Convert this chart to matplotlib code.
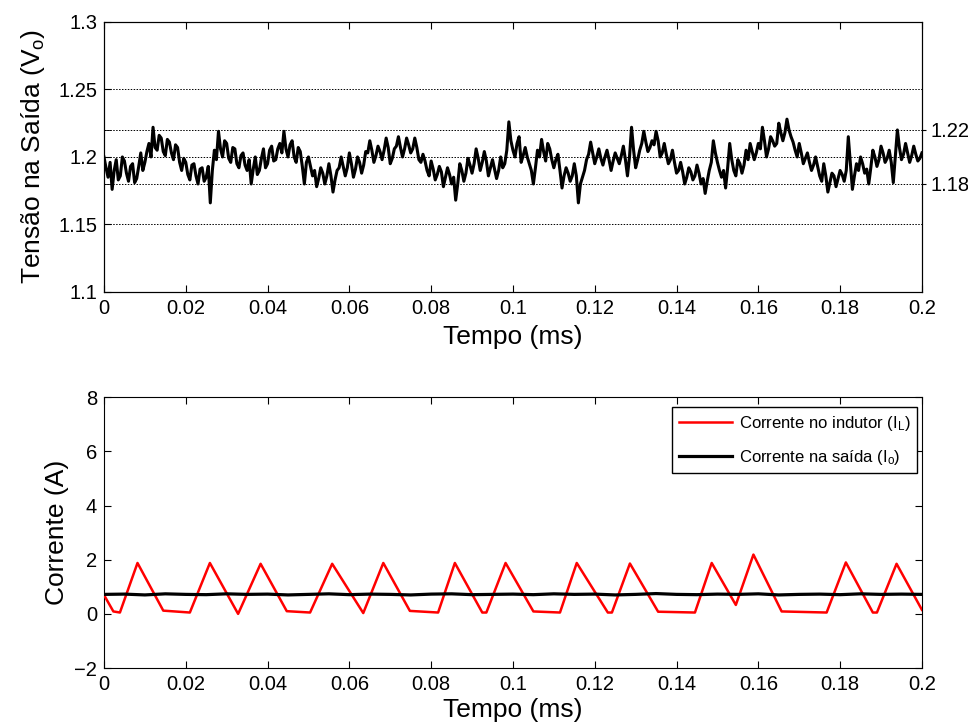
import numpy as np
import matplotlib
matplotlib.use("Agg")
import matplotlib.pyplot as plt

plt.rcParams['font.family'] = ['Liberation Sans', 'DejaVu Sans']
plt.rcParams['mathtext.default'] = 'regular'

# output voltage, one sample every 0.0005 ms
t_v = np.arange(0, 401) * 0.0005
v_out = [
    1.200, 1.192, 1.185, 1.196, 1.176, 1.190, 1.198, 1.183, 1.186, 1.200,
    1.197, 1.188, 1.182, 1.193, 1.195, 1.181, 1.184, 1.193, 1.203, 1.190,
    1.196, 1.204, 1.210, 1.200, 1.222, 1.207, 1.205, 1.216, 1.214, 1.204,
    1.201, 1.213, 1.211, 1.203, 1.198, 1.209, 1.207, 1.196, 1.190, 1.199,
    1.196, 1.187, 1.183, 1.194, 1.195, 1.186, 1.180, 1.191, 1.192, 1.182,
    1.185, 1.193, 1.166, 1.190, 1.205, 1.198, 1.219, 1.206, 1.200, 1.212,
    1.210, 1.199, 1.196, 1.207, 1.206, 1.195, 1.192, 1.201, 1.203, 1.194,
    1.190, 1.198, 1.180, 1.191, 1.200, 1.187, 1.190, 1.199, 1.206, 1.192,
    1.195, 1.205, 1.208, 1.197, 1.198, 1.206, 1.210, 1.203, 1.219, 1.206,
    1.200, 1.209, 1.212, 1.200, 1.196, 1.207, 1.204, 1.193, 1.180, 1.196,
    1.200, 1.193, 1.186, 1.190, 1.178, 1.184, 1.192, 1.188, 1.180, 1.186,
    1.195, 1.186, 1.174, 1.183, 1.190, 1.192, 1.200, 1.193, 1.186, 1.192,
    1.203, 1.195, 1.185, 1.191, 1.200, 1.196, 1.188, 1.194, 1.204, 1.203,
    1.212, 1.205, 1.196, 1.201, 1.208, 1.204, 1.198, 1.205, 1.214, 1.207,
    1.195, 1.199, 1.206, 1.208, 1.215, 1.207, 1.200, 1.206, 1.214, 1.209,
    1.203, 1.206, 1.214, 1.207, 1.198, 1.196, 1.202, 1.197, 1.190, 1.186,
    1.197, 1.191, 1.183, 1.187, 1.193, 1.189, 1.178, 1.185, 1.192, 1.187,
    1.180, 1.185, 1.168, 1.180, 1.195, 1.190, 1.182, 1.188, 1.199, 1.194,
    1.188, 1.195, 1.206, 1.199, 1.190, 1.196, 1.204, 1.197, 1.186, 1.192,
    1.198, 1.191, 1.184, 1.190, 1.200, 1.192, 1.195, 1.205, 1.226, 1.212,
    1.205, 1.200, 1.210, 1.215, 1.196, 1.201, 1.207, 1.200, 1.195, 1.190,
    1.180, 1.192, 1.205, 1.200, 1.213, 1.204, 1.197, 1.210, 1.206, 1.198,
    1.192, 1.198, 1.202, 1.190, 1.177, 1.186, 1.192, 1.188, 1.182, 1.186,
    1.195, 1.186, 1.166, 1.180, 1.185, 1.190, 1.198, 1.202, 1.211, 1.203,
    1.195, 1.200, 1.206, 1.199, 1.194, 1.200, 1.205, 1.198, 1.190, 1.197,
    1.203, 1.199, 1.195, 1.201, 1.208, 1.198, 1.186, 1.200, 1.222, 1.205,
    1.192, 1.198, 1.205, 1.210, 1.219, 1.211, 1.204, 1.207, 1.212, 1.209,
    1.219, 1.212, 1.200, 1.203, 1.210, 1.202, 1.195, 1.198, 1.205, 1.196,
    1.188, 1.190, 1.196, 1.189, 1.180, 1.185, 1.192, 1.189, 1.183, 1.186,
    1.194, 1.188, 1.180, 1.184, 1.173, 1.182, 1.190, 1.196, 1.212, 1.203,
    1.196, 1.190, 1.185, 1.190, 1.177, 1.192, 1.210, 1.198, 1.190, 1.186,
    1.198, 1.195, 1.188, 1.194, 1.205, 1.198, 1.210, 1.204, 1.198, 1.203,
    1.210, 1.206, 1.222, 1.212, 1.200, 1.206, 1.215, 1.212, 1.208, 1.210,
    1.225, 1.218, 1.212, 1.218, 1.228, 1.220, 1.215, 1.211, 1.205, 1.200,
    1.210, 1.203, 1.195, 1.199, 1.203, 1.196, 1.190, 1.194, 1.200, 1.193,
    1.186, 1.182, 1.195, 1.186, 1.174, 1.181, 1.188, 1.186, 1.178, 1.184,
    1.190, 1.187, 1.182, 1.190, 1.215, 1.195, 1.176, 1.186, 1.195, 1.190,
    1.200, 1.195, 1.188, 1.191, 1.180, 1.192, 1.205, 1.200, 1.193, 1.198,
    1.208, 1.203, 1.196, 1.199, 1.205, 1.196, 1.181, 1.200, 1.220, 1.207,
    1.198, 1.202, 1.210, 1.203, 1.196, 1.201, 1.208, 1.202, 1.197, 1.199,
    1.203,
]

# inductor current, corners of the triangular wave
t_il = [0.0, 0.0023, 0.0039, 0.0082, 0.0145, 0.0210, 0.0259, 0.0328, 0.0383,
        0.0447, 0.0504, 0.0558, 0.0634, 0.0683, 0.0748, 0.0817, 0.0858, 0.0925,
        0.0935, 0.0982, 0.1050, 0.1115, 0.1156, 0.1232, 0.1242, 0.1286, 0.1355,
        0.1445, 0.1486, 0.1545, 0.1588, 0.1657, 0.1767, 0.1814, 0.1880, 0.1890,
        0.1938, 0.2000]
i_l = [0.70, 0.09, 0.05, 1.88, 0.12, 0.05, 1.88, 0.00, 1.85,
       0.10, 0.05, 1.85, 0.03, 1.88, 0.11, 0.05, 1.88, 0.05,
       0.05, 1.88, 0.09, 0.05, 1.88, 0.05, 0.05, 1.86, 0.08,
       0.05, 1.88, 0.33, 2.19, 0.09, 0.05, 1.90, 0.05, 0.05,
       1.85, 0.15]

# output current, one sample every 0.005 ms
t_io = np.arange(0, 41) * 0.005
i_o = [0.72, 0.73, 0.70, 0.74, 0.72, 0.71, 0.74, 0.72, 0.73, 0.70,
       0.72, 0.74, 0.71, 0.73, 0.72, 0.70, 0.73, 0.74, 0.71, 0.72,
       0.73, 0.71, 0.74, 0.72, 0.73, 0.70, 0.72, 0.75, 0.72, 0.71,
       0.73, 0.72, 0.74, 0.70, 0.72, 0.73, 0.71, 0.74, 0.72, 0.73,
       0.72]

x_ticks = [0, 0.02, 0.04, 0.06, 0.08, 0.1, 0.12, 0.14, 0.16, 0.18, 0.2]
v_ticks = [1.1, 1.15, 1.2, 1.25, 1.3]
v_marks = [1.18, 1.22]
v_grid = [1.15, 1.18, 1.2, 1.22, 1.25]
i_ticks = [-2, 0, 2, 4, 6, 8]

TICK = 14.5
LABEL = 19

fig = plt.figure(figsize=(9.68, 7.24), dpi=100)
ax1 = fig.add_axes([0.1074, 0.5967, 0.845, 0.373])
ax2 = fig.add_axes([0.1074, 0.0773, 0.845, 0.374])

# top: output voltage
for g in v_grid:
    ax1.axhline(g, color='black', lw=0.7, ls=(0, (1.5, 1.5)), zorder=1)
ax1.plot(t_v, v_out, color='black', lw=2.2, zorder=3)
ax1.set_xlim(0, 0.2)
ax1.set_ylim(1.1, 1.3)
ax1.set_xticks(x_ticks)
ax1.set_xticklabels([f'{x:g}' for x in x_ticks])
ax1.set_yticks(v_ticks)
ax1.set_yticklabels([f'{v:g}' for v in v_ticks])
ax1.set_yticks(v_marks, minor=True)
ax1.tick_params(which='both', direction='in', top=True, right=True,
                labelsize=TICK, length=5, pad=5)
ax1.set_xlabel('Tempo (ms)', fontsize=LABEL, labelpad=5)
ax1.set_ylabel('Tensão na Saída ($V_o$)', fontsize=LABEL, labelpad=8)

ax1r = ax1.twinx()
ax1r.set_ylim(1.1, 1.3)
ax1r.set_yticks(v_marks)
ax1r.set_yticklabels([f'{v:g}' for v in v_marks])
ax1r.tick_params(direction='out', labelsize=TICK, length=3, pad=3)

# bottom: currents
ax2.plot(t_il, i_l, color='red', lw=1.8, label='Corrente no indutor ($I_L$)', zorder=3)
ax2.plot(t_io, i_o, color='black', lw=2.3, label='Corrente na saída ($I_o$)', zorder=4)
ax2.set_xlim(0, 0.2)
ax2.set_ylim(-2, 8)
ax2.set_xticks(x_ticks)
ax2.set_xticklabels([f'{x:g}' for x in x_ticks])
ax2.set_yticks(i_ticks)
ax2.tick_params(direction='in', top=True, right=True, labelsize=TICK, length=5, pad=5)
ax2.set_xlabel('Tempo (ms)', fontsize=LABEL, labelpad=3)
ax2.set_ylabel('Corrente (A)', fontsize=LABEL)
leg = ax2.legend(loc='upper right', bbox_to_anchor=(0.994, 0.964), fontsize=12,
                 fancybox=False, edgecolor='black', framealpha=1, handlelength=3.2,
                 handletextpad=0.4, labelspacing=0.9, borderaxespad=0)
leg.get_frame().set_linewidth(1.0)

fig.savefig('out.png', dpi=100)
